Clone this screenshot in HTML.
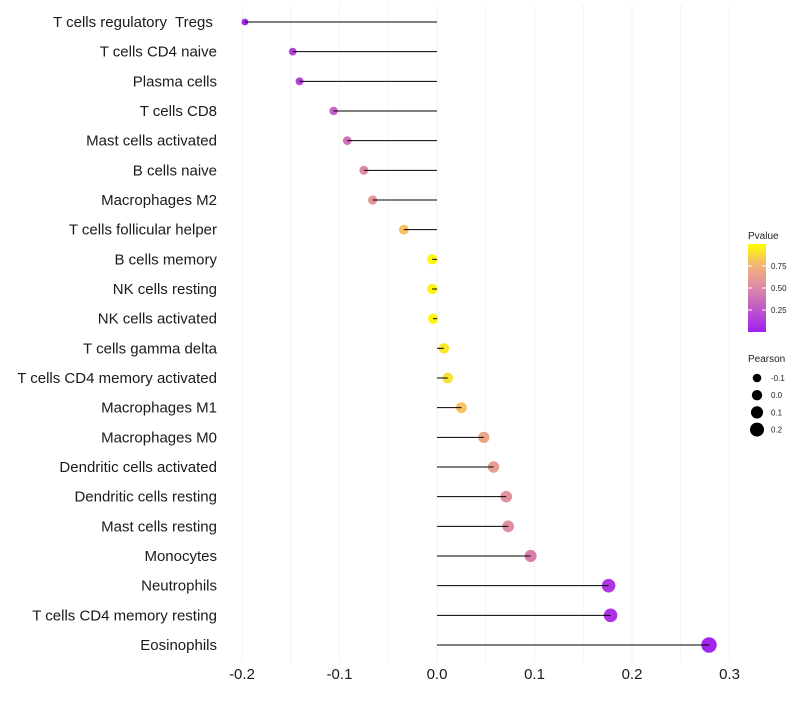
<!DOCTYPE html>
<html><head><meta charset="utf-8"><style>
body{margin:0;background:#fff;font-family:"Liberation Sans",sans-serif}
svg text{font-family:"Liberation Sans",sans-serif;white-space:pre}
</style></head><body>
<svg id="c" width="800" height="700">
<defs><linearGradient id="pg" x1="0" y1="1" x2="0" y2="0">
<stop offset="0" stop-color="#a020f0"/><stop offset="0.5" stop-color="#dc8aa6"/><stop offset="0.75" stop-color="#f2b27a"/><stop offset="1" stop-color="#ffff00"/></linearGradient></defs>
</svg>
<script>
const categories=["T cells regulatory  Tregs ","T cells CD4 naive","Plasma cells","T cells CD8","Mast cells activated","B cells naive","Macrophages M2","T cells follicular helper","B cells memory","NK cells resting","NK cells activated","T cells gamma delta","T cells CD4 memory activated","Macrophages M1","Macrophages M0","Dendritic cells activated","Dendritic cells resting","Mast cells resting","Monocytes","Neutrophils","T cells CD4 memory resting","Eosinophils"];
const pearson=[-0.197,-0.148,-0.141,-0.106,-0.092,-0.075,-0.066,-0.034,-0.005,-0.005,-0.004,0.007,0.011,0.025,0.048,0.058,0.071,0.073,0.096,0.176,0.178,0.279];
const pvalues=[0.02,0.15,0.17,0.32,0.38,0.5,0.58,0.8,0.97,0.97,0.97,0.92,0.9,0.8,0.68,0.62,0.55,0.53,0.45,0.1,0.09,0.02];
const xTicks=[-0.2,-0.1,0.0,0.1,0.2,0.3];
const pTicks=[0.25,0.5,0.75];
const sizeTicks=[-0.1,0.0,0.1,0.2];
const svg=document.getElementById('c');const NS="http://www.w3.org/2000/svg";
function mk(t,a,p){const e=document.createElementNS(NS,t);for(const k in a)e.setAttribute(k,a[k]);(p||svg).appendChild(e);return e;}
const x=v=>437+v*975;
const y=i=>22+i*(623/21);
const r=v=>Math.max(1.5,5.2+v*9);
function lerp(a,b,t){return a.map((v,i)=>Math.round(v+(b[i]-v)*t));}
const stops=[[0,[160,32,240]],[0.5,[220,138,166]],[0.75,[242,178,122]],[1,[255,255,0]]];
function col(p){for(let i=0;i<stops.length-1;i++){if(p<=stops[i+1][0]){const t=(p-stops[i][0])/(stops[i+1][0]-stops[i][0]);const c=lerp(stops[i][1],stops[i+1][1],t);return`rgb(${c})`;}}return"rgb(255,255,0)";}
for(let v=-0.2;v<=0.3001;v+=0.05){const g=mk('line',{x1:x(v),x2:x(v),y1:5,y2:662,stroke:'#f3f3f3','stroke-width':1});

}
xTicks.forEach(t=>{const e=mk('text',{x:x(t),y:679,'text-anchor':'middle','font-size':15,fill:'#1a1a1a'});e.textContent=t.toFixed(1);

});
categories.forEach((c,i)=>{const e=mk('text',{x:217,y:y(i)+5,'text-anchor':'end','font-size':15,fill:'#1a1a1a'});e.textContent=c;


const d=mk('circle',{cx:x(pearson[i]),cy:y(i),r:r(pearson[i]),fill:col(pvalues[i])});


const l=mk('line',{x1:x(0),x2:x(pearson[i]),y1:y(i),y2:y(i),stroke:'#000','stroke-width':1});

});
let t=mk('text',{x:748,y:239,'font-size':10,fill:'#222'});t.textContent='Pvalue';


const py=p=>332-p*88;
let bar=mk('rect',{x:748,y:py(1),width:18,height:88,fill:'url(#pg)'});


pTicks.forEach(p=>{mk('line',{x1:748,x2:752,y1:py(p),y2:py(p),stroke:'#fff'});mk('line',{x1:762,x2:766,y1:py(p),y2:py(p),stroke:'#fff'});
const e=mk('text',{x:771,y:py(p)+3,'font-size':8,fill:'#222'});e.textContent=p.toFixed(2);

});
t=mk('text',{x:748,y:362,'font-size':10,fill:'#222'});t.textContent='Pearson';


sizeTicks.forEach((s,i)=>{const cy=378+i*17.2;const d=mk('circle',{cx:757,cy:cy,r:r(s),fill:'#000'});


const e=mk('text',{x:771,y:cy+3,'font-size':8,fill:'#222'});e.textContent=s.toFixed(1);

});
</script>
</body></html>
